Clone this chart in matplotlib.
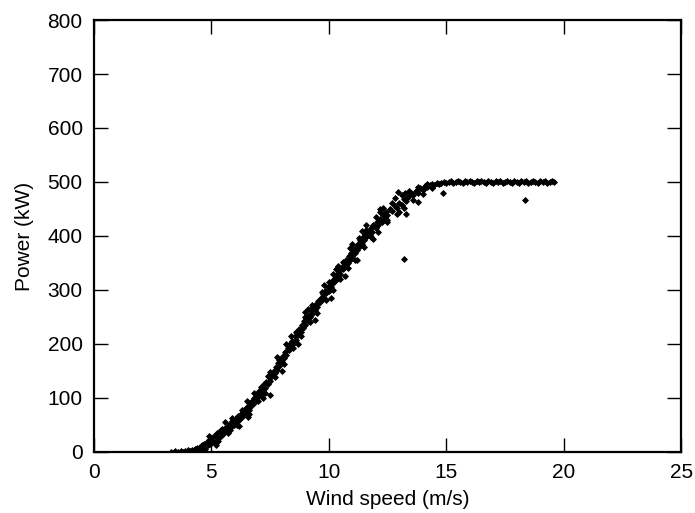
import matplotlib
matplotlib.use('Agg')
import matplotlib.pyplot as plt

plt.rcParams['font.family'] = ['Liberation Sans', 'DejaVu Sans']

speed = [
    3.3, 3.45, 3.6, 3.7, 3.8, 3.9, 4.0, 4.05, 4.1, 4.2, 4.25, 4.3, 4.35, 4.4, 4.45,
    4.5, 4.55, 4.6, 4.65, 4.7, 4.75, 4.8, 4.85, 4.9, 4.95, 5.0, 5.0, 5.05, 5.1, 5.15,
    5.2, 5.25, 5.3, 5.35, 5.4, 5.45, 5.5, 5.55, 5.6, 5.65, 5.7, 5.75, 5.8, 5.85, 5.9,
    5.95, 6.0, 6.05, 6.1, 6.15, 6.2, 6.25, 6.3, 6.35, 6.4, 6.45, 6.5, 6.55, 6.6, 6.65,
    6.7, 6.75, 6.8, 6.85, 6.9, 6.95, 7.0, 7.05, 7.1, 7.15, 7.2, 7.25, 7.3, 7.35, 7.4,
    7.45, 7.5, 7.55, 7.6, 7.65, 7.7, 7.75, 7.8, 7.85, 7.9, 7.95, 8.0, 8.05, 8.1, 8.15,
    8.2, 8.25, 8.3, 8.35, 8.4, 8.45, 8.5, 8.55, 8.6, 8.65, 8.7, 8.75, 8.8, 8.85, 8.9,
    8.95, 9.0, 9.05, 9.1, 9.15, 9.2, 9.25, 9.3, 9.35, 9.4, 9.45, 9.5, 9.55, 9.6, 9.65,
    9.7, 9.75, 9.8, 9.85, 9.9, 9.95, 10.0, 10.05, 10.1, 10.15, 10.2, 10.25, 10.3, 10.35,
    10.4, 10.45, 10.5, 10.55, 10.6, 10.65, 10.7, 10.75, 10.8, 10.85, 10.9, 10.95, 11.0,
    11.05, 11.1, 11.15, 11.2, 11.25, 11.3, 11.35, 11.4, 11.45, 11.5, 11.55, 11.6, 11.7,
    11.75, 11.8, 11.85, 11.9, 12.0, 12.05, 12.1, 12.2, 12.25, 12.3, 12.4, 12.45, 12.5,
    12.6, 12.7, 12.8, 12.9, 13.0, 13.1, 13.2, 13.3, 13.4, 13.5, 13.6, 13.7, 13.8, 13.9,
    14.0, 14.1, 14.2, 14.3, 14.4, 14.5, 14.6, 14.7, 14.8, 14.9, 15.0,
    15.1, 15.2, 15.3, 15.4, 15.5, 15.6, 15.7, 15.8, 15.9, 16.0, 16.1, 16.2, 16.3, 16.4,
    16.5, 16.6, 16.7, 16.8, 16.9, 17.0, 17.1, 17.2, 17.3, 17.4, 17.5, 17.6, 17.7, 17.8,
    17.9, 18.0, 18.1, 18.2, 18.3, 18.4, 18.5, 18.6, 18.7, 18.8, 18.9, 19.0, 19.1, 19.2,
    19.3, 19.4, 19.5, 19.6,
    5.6, 6.2, 6.8, 7.2, 7.8, 8.0, 8.4, 8.7, 9.1, 9.4, 9.8, 10.1, 10.4, 10.7, 11.0, 11.2,
    11.6, 11.9, 12.2, 12.5, 12.8, 13.0, 12.2, 11.4, 10.2, 9.0, 8.2, 7.4, 6.5, 5.8, 5.3,
    4.9, 7.5, 6.56, 13.2, 18.36, 13.8, 14.86, 12.95, 13.25, 13.3, 13.35,
    5.2, 5.4, 5.7, 5.9, 6.1, 6.3, 6.6, 6.8, 7.0, 7.1, 7.3, 7.5, 7.7, 7.9, 8.1, 8.3,
    8.5, 8.6, 8.8, 9.0, 9.2, 9.3, 9.5, 9.7, 9.9, 10.0, 10.2, 10.3, 10.5, 10.6, 10.8,
    10.9, 11.1, 11.3, 11.5, 11.6, 11.8, 12.0, 12.1, 12.3, 12.5, 12.7, 12.9, 13.1, 13.2,
    13.4, 13.6, 13.8, 14.0, 14.2, 14.4,
]
power = [
    0, 1, 0, 2, 0, 1, 3, 0, 2, 4, 1, 6, 3, 8, 2,
    10, 5, 12, 8, 15, 6, 18, 12, 22, 14, 25, 16, 20, 30, 18,
    28, 35, 26, 38, 30, 42, 34, 40, 45, 38, 48, 44, 52, 46, 58,
    50, 55, 62, 58, 66, 60, 70, 64, 74, 70, 80, 76, 85, 78, 90,
    86, 95, 90, 100, 96, 108, 102, 112, 108, 118, 114, 125, 118, 130, 126,
    138, 132, 145, 140, 150, 146, 158, 152, 164, 160, 172, 166, 178, 174, 186,
    180, 192, 188, 200, 194, 206, 200, 214, 208, 220, 216, 228, 222, 236, 230,
    242, 236, 248, 242, 254, 250, 262, 256, 268, 262, 274, 268, 280, 275, 286,
    282, 292, 286, 298, 294, 305, 298, 310, 305, 316, 312, 322, 318, 330,
    324, 336, 330, 342, 338, 350, 344, 355, 350, 362, 356, 368, 362,
    374, 368, 380, 374, 386, 380, 392, 386, 398, 392, 404, 398, 408,
    402, 414, 408, 420, 414, 426, 420, 432, 426, 438, 432, 444, 438,
    450, 446, 456, 452, 462, 458, 468, 464, 474, 480, 476, 484, 480, 488,
    486, 492, 490, 494, 496, 495, 498, 497, 499, 500, 498,
    500, 501, 499, 500, 502, 500, 499, 501, 500, 502, 500, 499, 501, 500,
    502, 500, 499, 501, 500, 498, 501, 500, 502, 499, 500, 501, 500, 498,
    501, 500, 499, 502, 500, 501, 499, 500, 501, 500, 498, 501, 500, 502,
    499, 500, 501, 500,
    55, 48, 110, 100, 175, 150, 215, 200, 265, 245, 310, 285, 345, 325, 385, 355,
    420, 395, 445, 425, 470, 445, 450, 410, 330, 260, 200, 140, 95, 40, 20,
    30, 105, 65, 357, 467, 463, 480, 481, 480, 440, 470,
    12, 40, 36, 62, 50, 78, 70, 100, 95, 120, 110, 148, 138, 170, 162, 198,
    192, 222, 214, 250, 240, 272, 258, 296, 282, 315, 300, 338, 320, 352, 340,
    378, 356, 396, 380, 412, 398, 436, 408, 452, 430, 462, 440, 475, 452,
    484, 466, 490, 478, 497, 488,
]

fig = plt.figure(figsize=(6.95, 5.13), dpi=100)
ax = fig.add_axes([0.135, 0.119, 0.845, 0.842])

ax.plot(speed, power, linestyle='none', marker='D', markersize=3.0,
        color='black', markeredgewidth=0.6)

ax.set_xlim(0, 25)
ax.set_ylim(0, 800)
ax.set_xticks([0, 5, 10, 15, 20, 25])
ax.set_yticks(range(0, 801, 100))

ax.set_xlabel('Wind speed (m/s)', fontsize=15, labelpad=6)
ax.set_ylabel('Power (kW)', fontsize=15, labelpad=10)

ax.tick_params(direction='in', length=10, width=1, top=True, right=True,
               labelsize=15, colors='black', pad=8)
for s in ax.spines.values():
    s.set_linewidth(1.6)

fig.savefig('out.png', dpi=100)
